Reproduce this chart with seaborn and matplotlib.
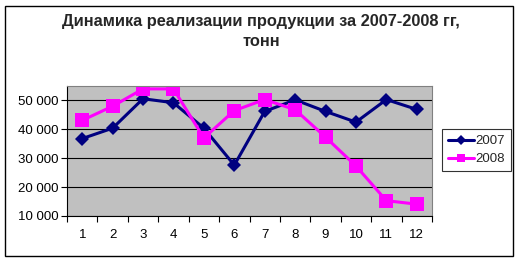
import matplotlib
matplotlib.use("Agg")
import matplotlib.pyplot as plt
import seaborn as sns
import pandas as pd
from matplotlib.patches import Rectangle
from matplotlib.lines import Line2D
from matplotlib.ticker import FuncFormatter, FixedLocator

months = list(range(1, 13))
sales_2007 = [36800, 40400, 50600, 49200, 40400, 27600, 46200, 50200, 46200, 42500, 50300, 46900]
sales_2008 = [43100, 48000, 54000, 54000, 37000, 46500, 50300, 46800, 37300, 27300, 15300, 14100]
series_names = ["2007", "2008"]
title = "Динамика реализации продукции за 2007-2008 гг,\nтонн"
y_ticks = [10000, 20000, 30000, 40000, 50000]

df = pd.DataFrame({
    "month": months * 2,
    "value": sales_2007 + sales_2008,
    "year": [series_names[0]] * 12 + [series_names[1]] * 12,
})

sns.set_theme(style="white")
plt.rcParams["font.family"] = ["Liberation Sans", "DejaVu Sans"]

fig = plt.figure(figsize=(5.22, 2.62), dpi=100)
fig.patch.set_facecolor("white")
ax = fig.add_axes([67 / 522, 1 - 216 / 262, (432 - 67) / 522, (216 - 86) / 262])
ax.set_facecolor("#C0C0C0")

palette = {"2007": "#000080", "2008": "#FF00FF"}
markers = {"2007": "D", "2008": "s"}
sns.lineplot(data=df, x="month", y="value", hue="year", style="year",
             palette=palette, markers=markers, dashes=False, ax=ax,
             linewidth=2.2, markersize=8, markeredgewidth=0, legend=False)
for line in ax.get_lines():
    if line.get_marker() == "s":
        line.set_markersize(10)
    else:
        line.set_markersize(7.5)

ax.set_xlim(0.5, 12.5)
ax.set_ylim(10000, 55000)
ax.yaxis.set_major_locator(FixedLocator(y_ticks))
ax.yaxis.set_major_formatter(FuncFormatter(lambda v, p: f"{int(v):,}".replace(",", " ")))
ax.set_xticks(months)
ax.set_xticklabels([str(m) for m in months])
ax.set_xticks([m + 0.5 for m in range(0, 13)], minor=True)
ax.tick_params(axis="x", which="major", length=0, pad=9, labelsize=9.5, colors="black")
ax.tick_params(axis="x", which="minor", length=4, width=0.8, color="black", direction="out", bottom=True)
ax.tick_params(axis="y", which="major", length=4, width=0.8, color="black", direction="out",
               left=True, labelsize=9.5, pad=2, labelcolor="black")
ax.grid(axis="y", color="black", linewidth=0.8)
ax.grid(axis="x", visible=False)
ax.set_axisbelow(True)
ax.set_xlabel("")
ax.set_ylabel("")
for s in ["top", "right"]:
    ax.spines[s].set_color("#808080")
    ax.spines[s].set_linewidth(0.8)
for s in ["left", "bottom"]:
    ax.spines[s].set_color("black")
    ax.spines[s].set_linewidth(0.8)

handles = [Line2D([0], [0], color=palette[n], marker=markers[n], linewidth=2.2,
                  markersize=5 if n == "2007" else 6, markeredgewidth=0) for n in series_names]
leg = fig.legend(handles, series_names, loc="upper left",
                 bbox_to_anchor=(442 / 522, 1 - 129 / 262), frameon=True, fontsize=9.5,
                 handlelength=2.0, handletextpad=0.1, borderpad=0.45, labelspacing=0.45,
                 fancybox=False, borderaxespad=0)
leg.get_frame().set_edgecolor("black")
leg.get_frame().set_linewidth(0.8)

fig.text(0.5, 1 - 14 / 262, title, ha="center", va="top", fontsize=11.8,
         fontweight="bold", linespacing=1.4)

fig.patches.append(Rectangle((5 / 522, 6 / 262), 508 / 522, 250 / 262,
                             transform=fig.transFigure, fill=False,
                             edgecolor="black", linewidth=1))

fig.savefig("out.png", dpi=100)
